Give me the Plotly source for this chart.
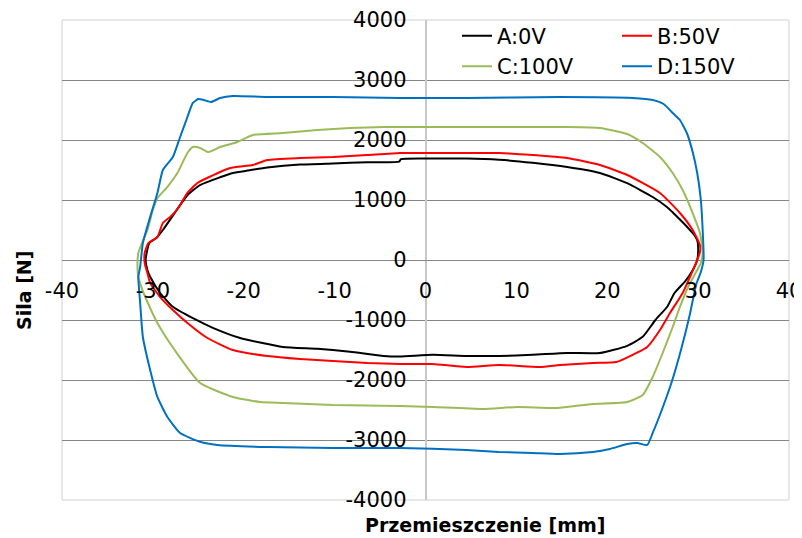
import plotly.graph_objects as go

# ---- data ----
series_names = ["A:0V", "B:50V", "C:100V", "D:150V"]
series_colors = ["#000000", "#FF0000", "#9BBB59", "#0070C0"]
series_legends = ["legend", "legend2", "legend", "legend2"]

A_x = [-30.8, -30.4, -29.6, -28.9, -27.9, -26.2, -24.8, -22.6, -21.2, -19.6, -17.4, -13.8, -10.2, -6.4, -2.9, -2.7,
       0.8, 4.5, 8.1, 11.8, 15.6, 19.2, 22.2, 25.0, 26.6, 27.3, 28.3, 28.8, 29.4, 29.9, 30.0,
       29.9, 29.4, 28.6, 27.4, 26.6, 25.3, 23.9, 22.2, 19.2, 15.6, 11.8, 8.1, 4.5, 0.8, -2.8, -4.6, -8.3,
       -11.9, -15.7, -20.4, -23.4, -25.6, -27.8, -29.2, -30.3, -30.6, -30.8]
A_y = [0, 280, 370, 500, 720, 1080, 1250, 1380, 1450, 1490, 1540, 1590, 1610, 1630, 1640, 1680,
       1690, 1690, 1670, 1620, 1550, 1450, 1280, 1050, 880, 780, 630, 550, 450, 330, 220,
       0, -170, -350, -550, -780, -1000, -1280, -1430, -1550, -1550, -1580, -1600, -1600, -1580, -1610, -1600, -1530,
       -1480, -1450, -1300, -1130, -970, -780, -550, -280, -170, 0]

B_x = [-30.9, -30.9, -30.5, -29.5, -28.9, -28.1, -27.2, -26.2, -25.1, -23.8, -21.5, -19.0, -17.4, -13.8, -10.2,
       -6.4, -2.8, 0.8, 4.5, 8.1, 11.8, 15.6, 19.2, 22.2, 25.8, 28.0, 29.4, 30.2, 30.2,
       29.9, 29.1, 28.3, 26.9, 25.8, 24.4, 22.8, 21.0, 18.4, 14.8, 12.6, 8.1, 4.5, 0.8, -2.8, -6.4, -10.2,
       -13.8, -17.4, -21.2, -24.0, -26.2, -27.8, -29.2, -30.3, -30.6, -30.9]
B_y = [-50, 117, 283, 383, 617, 717, 867, 1117, 1283, 1383, 1533, 1583, 1667, 1700, 1717,
       1750, 1783, 1783, 1783, 1783, 1750, 1700, 1583, 1417, 1117, 783, 500, 250, 130,
       0, -283, -550, -883, -1167, -1450, -1580, -1700, -1717, -1750, -1783, -1750, -1783, -1733, -1733, -1717, -1683,
       -1650, -1600, -1500, -1300, -1050, -833, -617, -383, -217, -50]

C_x = [-31.7, -31.6, -31.2, -30.6, -30.0, -29.5, -28.4, -27.3, -26.2, -25.6, -24.8, -23.9, -22.6, -20.7, -19.0,
       -15.7, -11.9, -8.3, -4.6, 0.8, 8.1, 15.6, 19.2, 22.2, 23.9, 25.8, 27.2, 28.3, 29.4, 30.2, 30.5,
       30.3, 29.9, 28.9, 28.0, 27.2, 26.1, 25.0, 23.9, 22.2, 18.4, 14.5, 10.1, 6.3, 0.8, -2.8, -10.2, -15.7,
       -18.2, -21.2, -24.8, -27.7, -29.5, -30.6, -31.2, -31.6, -31.7]
C_y = [-80, 117, 283, 500, 833, 1033, 1217, 1450, 1783, 1883, 1867, 1800, 1883, 1967, 2083,
       2117, 2167, 2200, 2217, 2217, 2217, 2217, 2200, 2100, 1950, 1717, 1450, 1167, 783, 450, 117,
       -50, -167, -450, -783, -1117, -1550, -1950, -2250, -2367, -2400, -2467, -2450, -2483, -2450, -2433, -2417, -2383,
       -2367, -2283, -2050, -1480, -1050, -700, -480, -283, -80]

D_x = [-31.4, -31.1, -30.3, -29.5, -28.9, -27.8, -27.0, -26.2, -25.6, -25.0, -24.4, -23.6, -22.6, -21.2, -17.4,
       -10.2, -2.8, 4.5, 14.8, 22.8, 25.0, 26.2, 27.2, 28.0, 28.8, 29.4, 29.9, 30.3, 30.5, 30.6,
       30.3, 29.8, 29.1, 28.2, 27.1, 26.0, 25.0, 24.4, 23.3, 22.2, 20.3, 18.4, 14.8, 11.8, 8.1, 4.5, -2.8,
       -10.2, -17.4, -22.9, -24.8, -27.0, -28.4, -29.5, -30.3, -31.1, -31.4, -31.6, -31.4]
D_y = [-117, 283, 717, 1117, 1500, 1717, 2050, 2383, 2617, 2683, 2667, 2633, 2700, 2733, 2717,
       2717, 2700, 2700, 2717, 2700, 2667, 2600, 2450, 2333, 2100, 1800, 1450, 1000, 500, 0,
       -200, -400, -900, -1450, -2030, -2500, -2883, -3083, -3050, -3067, -3150, -3200, -3233, -3217, -3200, -3167, -3133,
       -3133, -3117, -3083, -3030, -2883, -2617, -2283, -1833, -1283, -717, -283, -117]

x_ticks = [-40, -30, -20, -10, 0, 10, 20, 30, 40]
y_ticks = [-4000, -3000, -2000, -1000, 0, 1000, 2000, 3000, 4000]

x_title = "Przemieszczenie [mm]"
y_title = "Sila [N]"

FONT = "DejaVu Sans"

fig = go.Figure()
for name, color, lg, xs, ys in zip(series_names, series_colors, series_legends,
                                   [A_x, B_x, C_x, D_x], [A_y, B_y, C_y, D_y]):
    fig.add_trace(go.Scatter(x=xs, y=ys, mode="lines", name=name, legend=lg,
                             line=dict(color=color, width=2, shape="spline", smoothing=0.5)))

legend_common = dict(orientation="v", yanchor="top", xanchor="left",
                     bgcolor="rgba(0,0,0,0)", borderwidth=0,
                     font=dict(family=FONT, size=21, color="black"),
                     itemclick=False, itemdoubleclick=False)

# the page places the figure 8 px from the top-left corner
fig.update_layout(
    width=802, height=538,
    margin=dict(l=54, r=21, t=12, b=46, autoexpand=False),
    paper_bgcolor="white", plot_bgcolor="white",
    font=dict(family=FONT, size=21, color="black"),
    showlegend=True,
    legend=dict(x=(457 - 62) / 727, y=1.009, **legend_common),
    legend2=dict(x=(617 - 62) / 727, y=1.009, **legend_common),
    xaxis=dict(range=[-40, 40], tickvals=x_ticks, ticktext=[str(v) for v in x_ticks],
               showgrid=False, zeroline=True, zerolinecolor="#C8C8C8", zerolinewidth=2,
               anchor="free", position=0.5, showline=False, ticks="", automargin=False,
               ticklabelstandoff=16, ticklabeloverflow="allow",
               tickfont=dict(family=FONT, size=21, color="black")),
    yaxis=dict(range=[-4000, 4000], tickvals=y_ticks, ticktext=[str(v) for v in y_ticks],
               showgrid=True, gridcolor="#868686", gridwidth=1,
               zeroline=True, zerolinecolor="#868686", zerolinewidth=1,
               anchor="free", position=0.5, showline=False, ticks="", automargin=False,
               ticklabelstandoff=19, ticklabeloverflow="allow",
               tickfont=dict(family=FONT, size=21, color="black")),
    shapes=[dict(type="rect", xref="paper", yref="paper", x0=0, x1=1, y0=0, y1=1,
                 line=dict(color="#D0D0D0", width=1), layer="below")],
    annotations=[
        dict(text="<b>" + x_title + "</b>", xref="paper", yref="paper",
             x=(485 - 62) / 727, y=(500 - 525) / 480, xanchor="center", yanchor="middle",
             showarrow=False, font=dict(family=FONT, size=19, color="black")),
        dict(text="<b>" + y_title + "</b>", xref="paper", yref="paper",
             x=(24 - 62) / 727, y=(500 - 291) / 480, xanchor="center", yanchor="middle",
             textangle=-90, showarrow=False, font=dict(family=FONT, size=19, color="black")),
    ],
)

fig.write_html("out.html")
